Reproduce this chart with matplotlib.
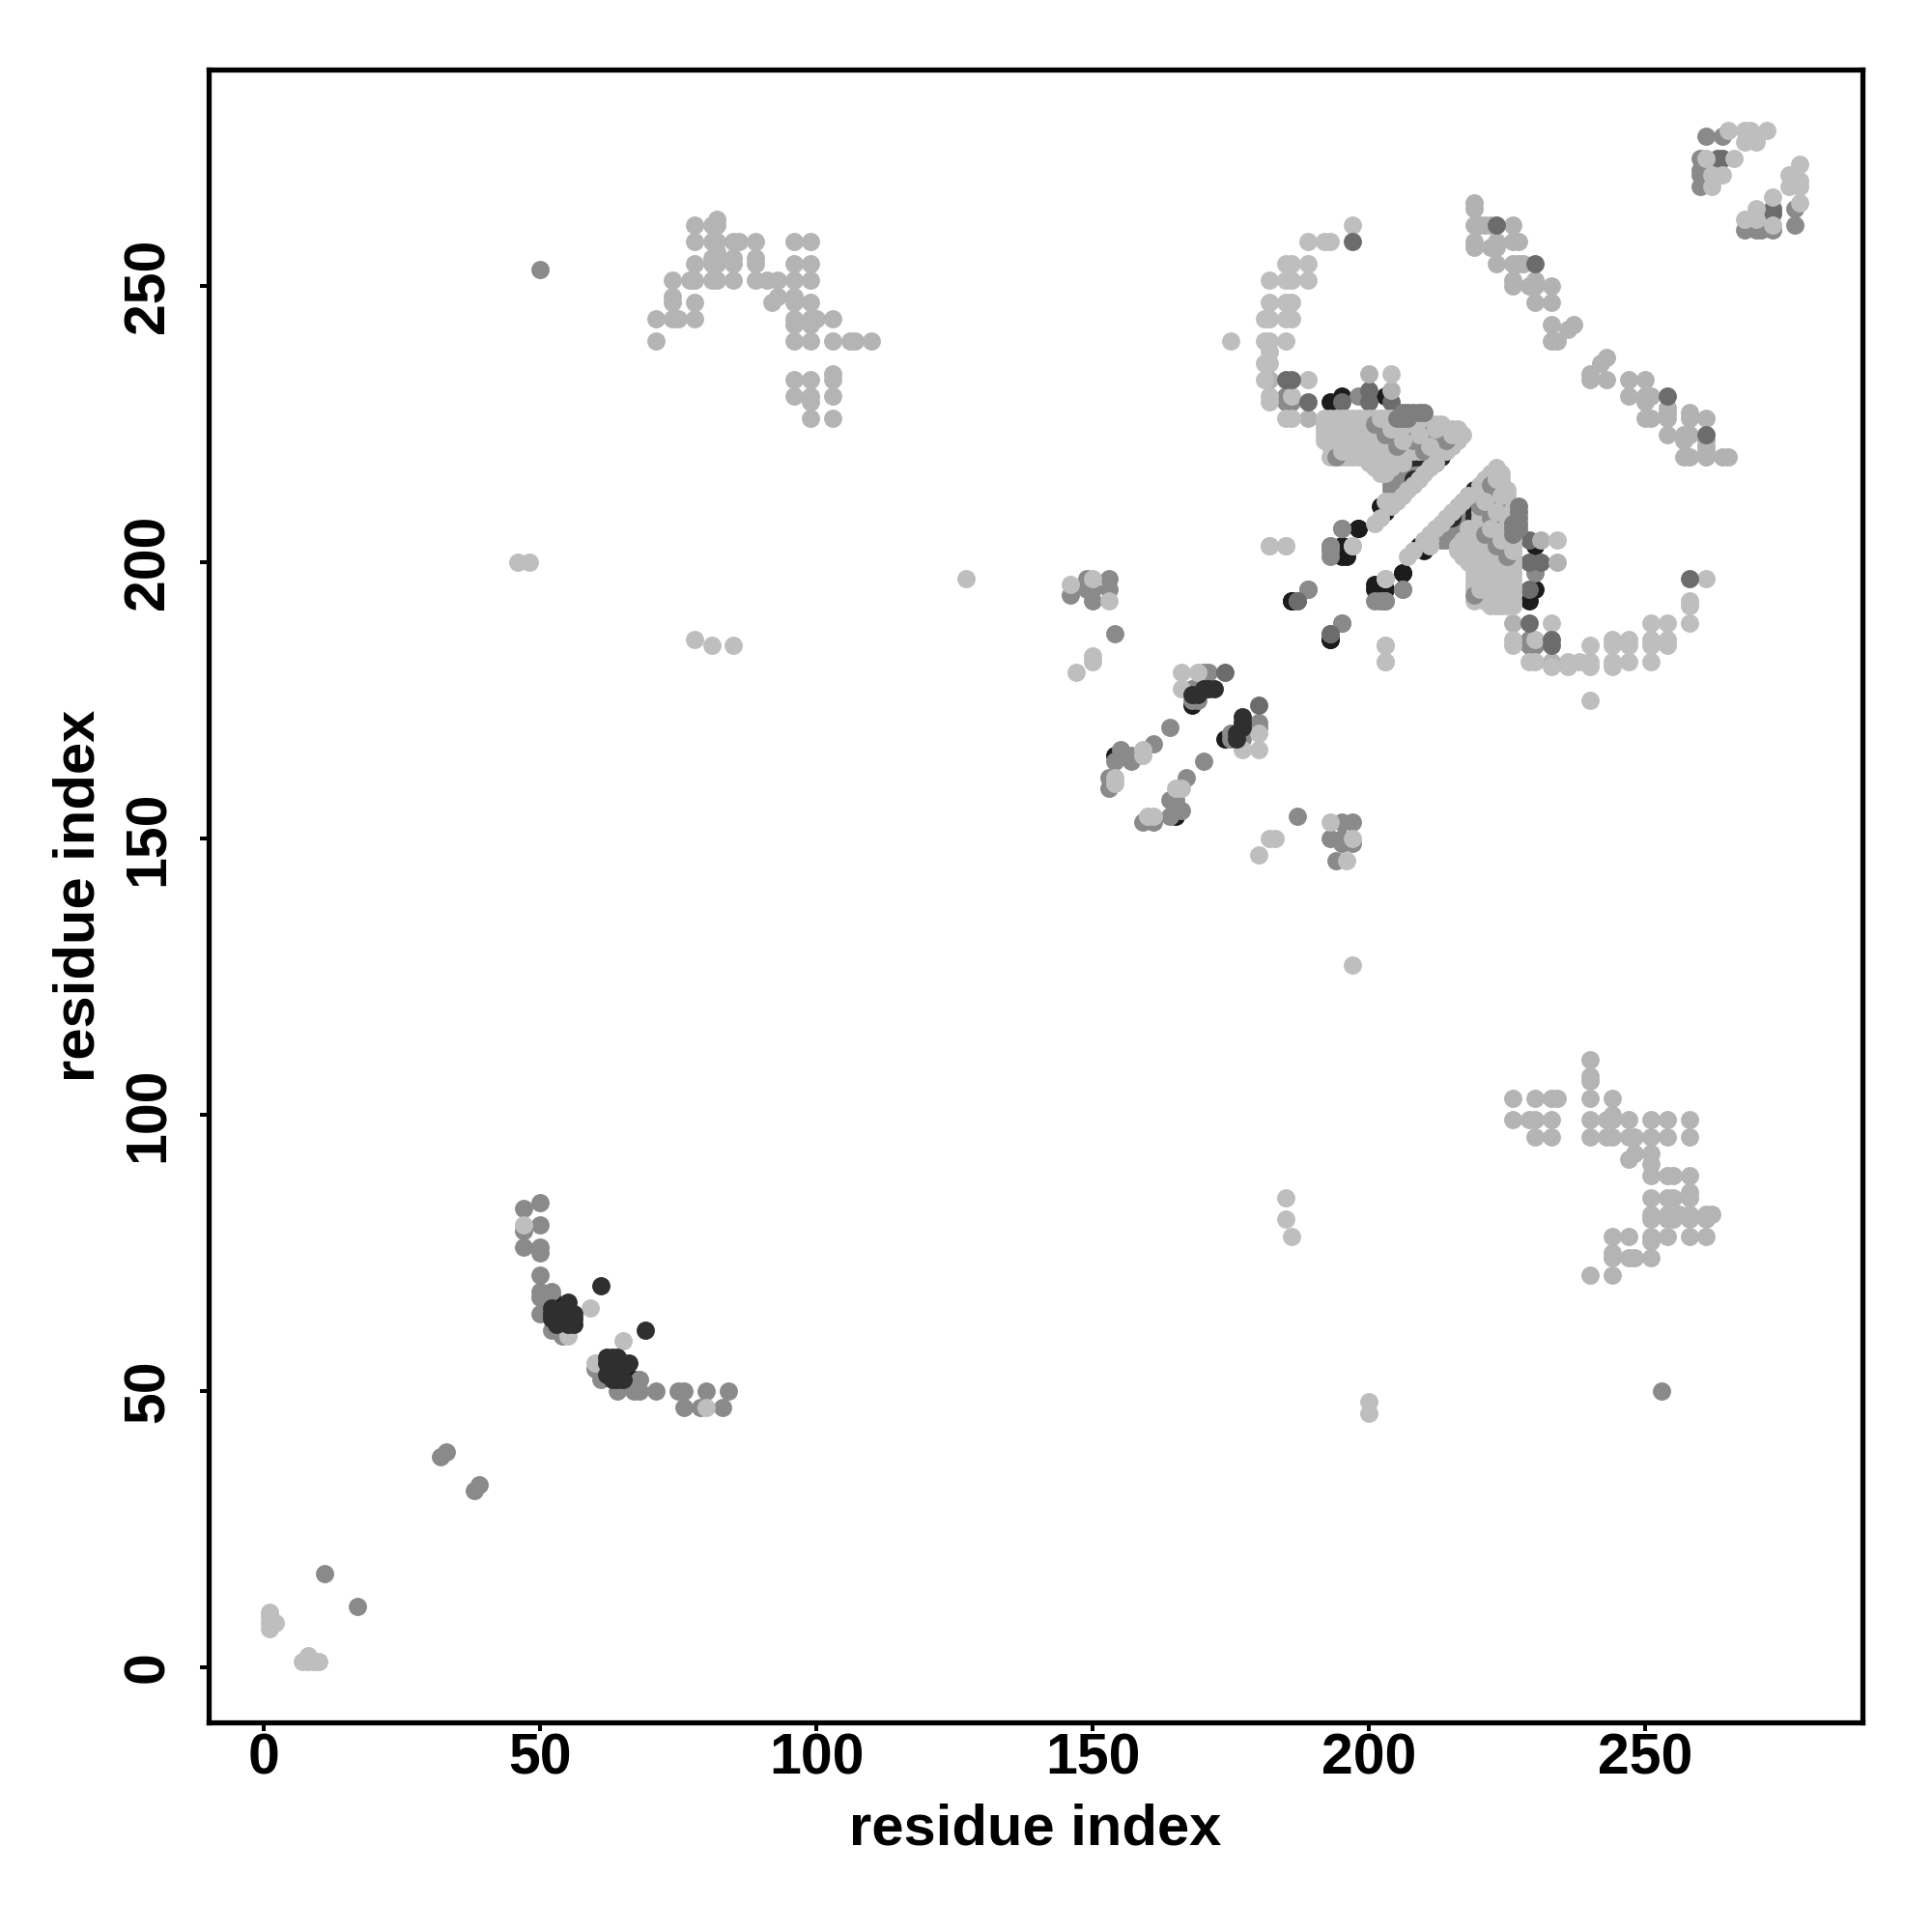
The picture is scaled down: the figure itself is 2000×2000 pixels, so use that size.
import matplotlib
matplotlib.use("Agg")
import matplotlib.pyplot as plt

plt.rcParams["font.family"] = ["Liberation Sans", "DejaVu Sans"]
plt.rcParams["font.weight"] = "bold"

# residue contacts (i, j) with i < j, the map is symmetric so each one is drawn twice
sheet_far = [(78,261),(81,261),(82,262),(82,261),(78,258),(81,258),(82,258),(85,258),(86,258),(89,258),
             (96,258),(99,258),(78,254),(81,254),(82,254),(85,254),(89,254),(96,254),(99,254),(82,256),
             (81,255),(85,255),(89,255),(74,251),(77,251),(78,251),(81,251),(82,251),(85,251),(89,251),
             (91,251),(93,251),(96,251),(99,251),(74,248),(74,247),(78,247),(93,248),(92,247),(96,248),
             (96,247),(99,247),(71,244),(74,244),(75,244),(78,244),(96,244),(99,244),(100,244),(103,244),
             (96,243),(99,243),(71,240),(96,240),(99,240),(103,240),(106,240),(107,240),(110,240),(96,233),
             (99,233),(103,233),(103,234),(96,230),(99,230),(103,230),(99,229),(99,226),(103,226)]

arc_light = [(197,261),(189,258),(192,258),(193,258),(185,254),(186,254),(189,254),(182,251),(185,251),
             (186,251),(189,251),(182,247),(185,247),(186,247),(181,244),(182,244),(185,244),(186,244),
             (181,240),(182,240),(185,240),(182,238),(181,236),(182,236),(181,233),(189,233),(204,234),
             (182,230),(182,229),(186,230),(185,226),(186,226),(175,240),(182,203),(185,203),(203,185),
             (203,182),(203,197),(197,203),(201,207),(1,7),(1,8),(1,9),(1,10),(2,8),(46,200),(48,200),
             (127,197),(78,186),(81,185),(85,185),(147,180),(150,182),(150,183),(153,193),(146,196),
             (150,197),(166,180),(169,180),(166,177),(159,165),(159,166),(154,160),(154,161),(47,80),
             (59,65),(55,60)]

arc_grey = [(219,265),(219,264),(220,261),(219,261),(222,261),(226,261),(219,258),(222,257),(223,258),
            (226,258),(227,258),(219,257),(223,254),(226,254),(227,254),(228,254),(226,251),(226,250),
            (229,250),(230,251),(230,250),(233,250),(230,247),(233,247),(233,243),(236,242),(237,243),
            (233,240),(234,240),(221,261),(223,257),(182,233),(189,226),(204,231),(200,234)]

corner_light = [(265,278),(268,278),(269,278),(272,278),(268,276),(270,276),(261,273),(262,270),(262,268),
                (266,273),(264,270)]

mid = [(261,277),(264,277),(260,273),(260,271),(260,270),(260,268),(198,230),(185,230),(185,229),(186,229),
       (189,195),(187,193),(195,189),(206,195),(201,193),(202,193),(203,193),(195,206),(193,203),(11,17),
       (32,38),(33,39),(50,253),(170,180),(171,180),(168,177),(168,175),(169,175),(164,170),(161,167),
       (157,164),(157,165),(155,165),(155,166),(154,164),(153,161),(153,159),(154,187),(153,195),(153,197),
       (150,193),(150,195),(149,195),(149,197),(146,194),(47,83),(50,84),(47,79),(50,80),(47,76),(50,76),
       (50,75),(50,71),(50,68),(50,67),(52,68),(50,64),(52,61),(54,60)]

slate = [(195,229),(200,231),(200,229),(204,229),(263,273),(264,273),(174,180),(193,187)]

slate_top = [(197,258),(223,261),(230,254),(185,233),(186,233),(189,229)]

dark_under = [(193,229),(193,225),(203,230),(193,224),(195,230),(193,186),(186,193),(195,203),(194,202),
              (196,202),(201,196),(201,195),(203,195),(198,206),(206,198),(202,210),(203,209),(168,174),
              (154,165),(215,222),(52,67)]

mid_low = [(206,217),(207,217),(208,217),(205,216),(206,216),(207,216),(204,215),(205,215),(206,215),(207,215),
           (204,214),(205,214),(206,214),(204,213),(205,213),(205,212)]

# thin dark edges that stick out under the block
dark_edge = [(207,219),(208,219),(209,219),(210,219),(211,219),(212,218),(213,219),(208,215)]

# packed block next to the diagonal, one row for each j
dense_rows = [(226, [192,193,194,195,196,197,198,199,200,201,202,203,204,205]),
              (225, [192,193,194,195,196,197,198,199,200,201,202,203,204,205,206,207,208,209,210,211,212,213]),
              (224, [192,194,195,196,197,198,199,200,201,202,203,204,205,206,207,208,209,210,211,212,213,214,215,216]),
              (223, [192,193,194,195,196,197,198,199,200,201,202,203,204,205,206,207,208,209,210,211,212,213,214,215,216,217]),
              (222, [192,193,194,195,196,197,198,199,200,201,202,203,204,205,206,207,208,209,210,211,212,213,214,216]),
              (221, [193,194,195,196,197,198,199,200,201,202,203,204,205,206,207,208,209,210,211,212,213,214,215]),
              (220, [194,195,196,197,198,199,200,201,202,203,204,205,206,207,208,209,210,211,212,213,214]),
              (219, [193,195,196,197,198,199,200,201,202,203,204,205,206]),
              (218, [200,201,202,203,204,205,206]),
              (217, [201,202,203,204]),
              (216, [202,203]),
              (213, [207]),
              (212, [206]),
              (211, [203,204,205]),
              (210, [204]),
              (208, [202])]

mid_high = [(206,227),(207,227),(208,227),(209,227),(210,227),(205,226),(206,226),(207,226)]

streak = [(201,225),(208,222),(211,223),(214,222),(194,219),(205,221),(210,220),(203,223)]
streak_cover = [(202,226),(209,223),(212,224),(215,223),(195,220),(206,222),(211,221),(204,224)]

diag_light = [(212,218),(211,217),(210,216),(209,215),(208,214)]

dark_top = [(168,176),(169,176),(170,177),(171,177),(172,177),(55,66),(52,65),(52,64),(52,63),(53,64),(53,63),
            (54,63),(53,62),(55,65),(55,64),(55,63),(55,62),(56,64),(56,63),(56,62),(61,69)]

layers = [(dark_under, "#1c1c1c"), (mid, "#8a8a8a"), (slate, "#6c6c6c"), (sheet_far, "#b4b4b4"),
          (arc_grey, "#b2b2b2"), (arc_light, "#bebebe"), (corner_light, "#bebebe"),
          (mid_low, "#8a8a8a"), (dark_edge, "#2a2a2a")]

xticks = [0, 50, 100, 150, 200, 250]

dense = []
for j, row in dense_rows:
    for i in row:
        dense.append((i, j))

fig = plt.figure(figsize=(20, 20), dpi=100)
ax = fig.add_axes([216/2000, 217/2000, 1712/2000, 1711/2000])


def draw(pairs, color):
    xs = [p[0] for p in pairs] + [p[1] for p in pairs]
    ys = [p[1] for p in pairs] + [p[0] for p in pairs]
    ax.scatter(xs, ys, s=185, c=color, linewidths=0, zorder=2)


for pairs, color in layers:
    draw(pairs, color)
draw(dense, "#bebebe")
draw(streak, "#8a8a8a")
draw(streak_cover, "#bebebe")
draw(mid_high, "#7e7e7e")
draw(diag_light, "#bebebe")
draw(slate_top, "#6c6c6c")
draw(dark_top, "#2f2f2f")

ax.set_xlim(-10, 289.3)
ax.set_ylim(-10, 289.1)
ax.set_xticks(xticks)
ax.set_yticks(xticks)
ax.tick_params(axis="x", length=6.3, width=2.9, labelsize=42.5, pad=1)
ax.tick_params(axis="y", length=6.3, width=2.9, labelsize=42.5, pad=18.5)
for t in ax.get_yticklabels():
    t.set_rotation(90)
    t.set_va("center")
for s in ax.spines.values():
    s.set_linewidth(3.8)
ax.set_xlabel("residue index", fontsize=43, fontweight="bold")
ax.set_ylabel("residue index", fontsize=43, fontweight="bold")
ax.xaxis.set_label_coords(0.5, -0.049)
ax.yaxis.set_label_coords(-0.062, 0.5)

fig.savefig("out.png", dpi=100)
